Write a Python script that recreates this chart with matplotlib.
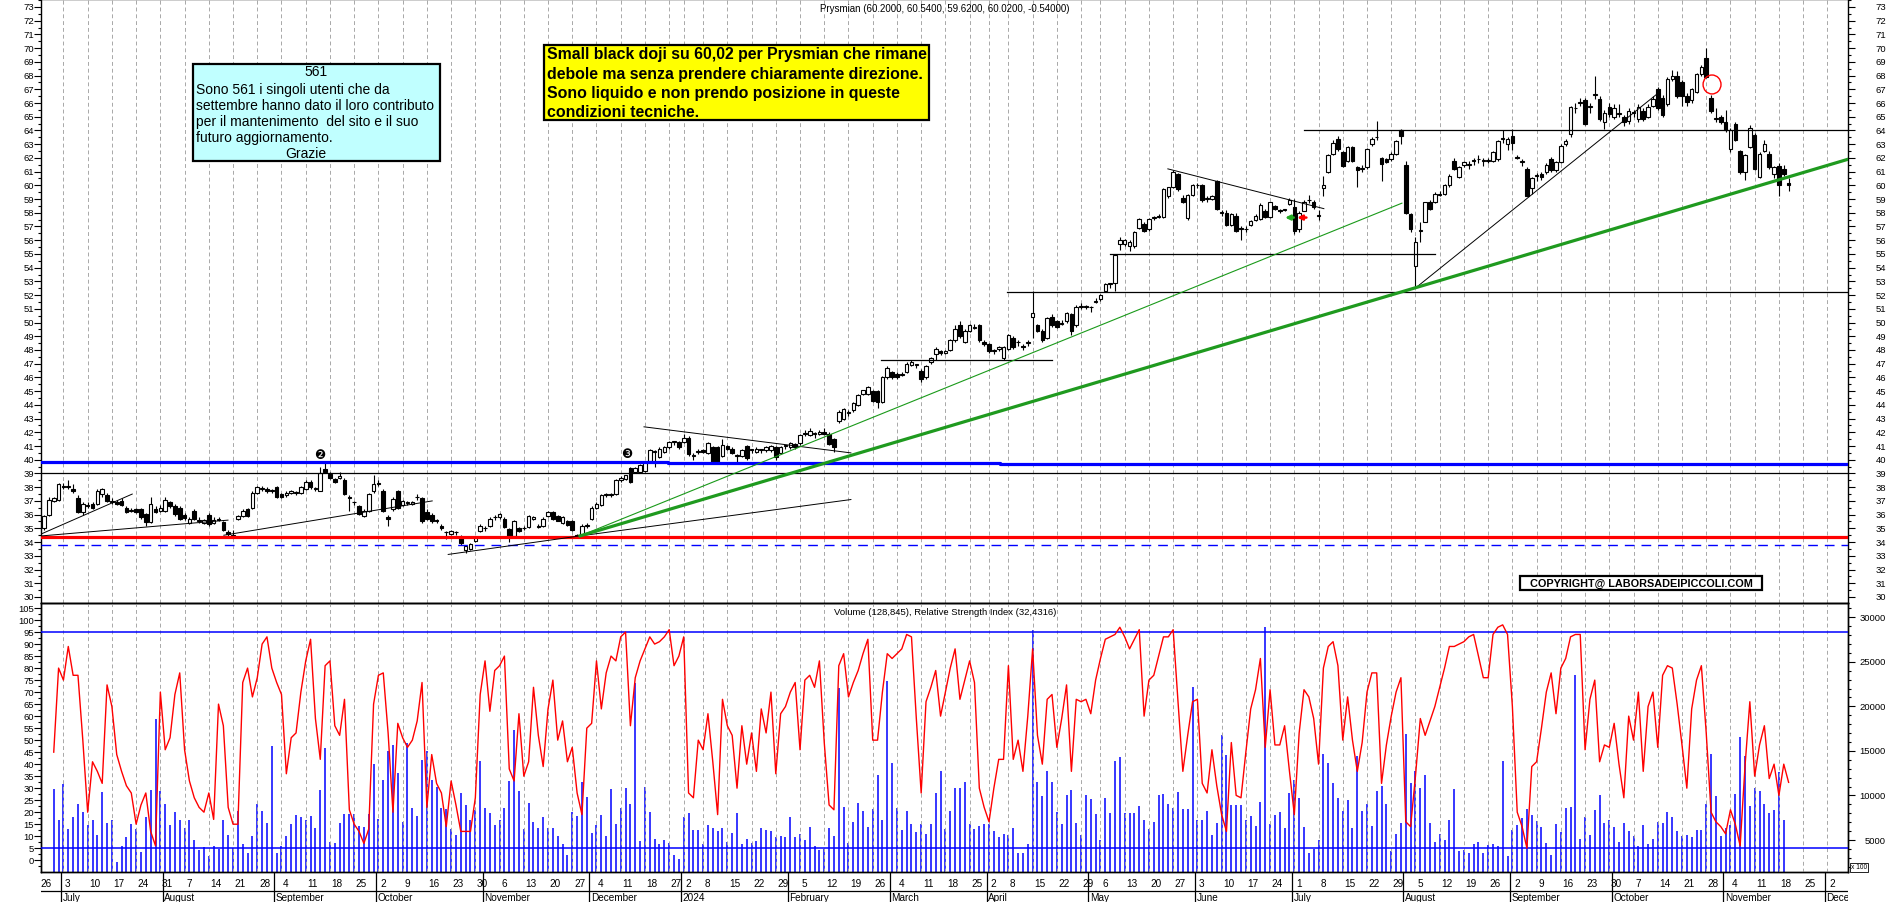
import numpy as np
import pandas as pd
import matplotlib
matplotlib.use("Agg")
from matplotlib import pyplot as plt
from matplotlib import transforms
from matplotlib.patches import Rectangle, Ellipse
from matplotlib.ticker import MultipleLocator

plt.rcParams['font.family'] = ['Liberation Sans', 'DejaVu Sans']

# ---------------- dati ----------------
# candele giornaliere Prysmian (apertura, massimo, minimo, chiusura)
candles_1 = [
    (35.0, 36.0, 34.9, 35.9), (36.0, 37.3, 35.9, 37.1), (37.0, 37.3, 36.9, 37.2), (37.1, 38.3, 37.0, 38.2), (38.1, 38.3, 37.9, 38.0),
    (38.0, 38.5, 37.9, 38.1), (37.9, 38.2, 37.6, 37.7), (37.2, 37.4, 36.1, 36.2), (36.2, 36.9, 36.0, 36.8), (36.7, 36.9, 36.5, 36.65),
    (36.8, 36.9, 36.4, 36.5), (36.8, 37.9, 36.7, 37.75), (37.5, 37.95, 37.3, 37.85), (37.4, 37.6, 36.9, 37.0), (37.0, 37.2, 36.8, 36.95),
    (36.9, 37.1, 36.7, 36.8), (37.0, 37.2, 36.6, 36.7), (36.5, 36.6, 36.1, 36.2), (36.3, 36.5, 36.2, 36.35), (36.4, 36.5, 36.1, 36.2),
    (36.4, 36.5, 35.7, 35.8), (36.05, 36.1, 35.2, 35.45), (35.45, 37.3, 35.4, 36.8), (36.4, 36.6, 36.1, 36.2), (36.3, 36.7, 36.2, 36.5),
    (36.3, 37.3, 36.2, 37.1), (36.9, 37.0, 36.5, 36.65), (36.65, 36.8, 35.9, 36.05), (36.5, 36.6, 35.6, 35.7), (36.0, 36.1, 35.6, 35.75),
    (35.4, 35.8, 35.3, 35.7), (36.3, 36.4, 35.6, 35.7), (35.6, 35.8, 35.4, 35.55), (35.4, 35.7, 35.3, 35.6), (36.0, 36.1, 35.2, 35.3),
    (35.4, 35.8, 35.3, 35.6), (35.6, 35.8, 35.5, 35.7), (35.45, 35.5, 34.8, 34.85), (34.7, 34.9, 34.4, 34.6), (34.5, 34.9, 34.4, 34.45),
    (35.7, 36.0, 35.6, 35.9), (35.9, 36.4, 35.8, 36.3), (36.4, 36.5, 35.8, 35.9), (36.5, 37.7, 36.4, 37.6), (37.6, 38.1, 37.5, 38.0),
    (37.9, 38.1, 37.7, 37.9), (37.9, 38.0, 37.6, 37.7), (37.7, 37.9, 37.6, 37.8), (38.0, 38.1, 37.2, 37.3), (37.5, 37.6, 37.2, 37.3),
    (37.4, 37.7, 37.3, 37.6), (37.6, 37.8, 37.5, 37.7), (37.6, 37.7, 37.4, 37.6), (37.6, 38.1, 37.5, 38.0), (37.9, 38.5, 37.8, 38.4),
    (38.4, 38.5, 37.9, 38.0), (37.9, 38.0, 37.7, 37.9), (37.75, 39.5, 37.7, 39.0), (39.3, 39.8, 39.0, 39.1), (38.95, 39.1, 38.6, 38.7),
    (38.6, 38.7, 38.3, 38.4), (38.7, 39.1, 38.6, 38.8), (38.55, 38.7, 37.4, 37.5), (37.3, 37.4, 36.3, 37.2), (36.9, 37.0, 36.7, 36.9),
    (36.65, 36.7, 36.0, 36.05), (35.9, 36.4, 35.8, 36.3), (36.3, 37.6, 36.2, 37.5), (37.7, 38.9, 37.6, 38.2), (38.3, 38.5, 38.1, 38.2),
    (37.75, 37.9, 36.2, 36.3), (35.8, 36.0, 35.2, 35.7), (36.4, 37.3, 36.3, 37.15), (37.7, 37.8, 36.4, 36.5), (36.7, 37.1, 36.6, 37.0),
    (36.85, 37.0, 36.7, 36.85), (36.8, 37.0, 36.7, 36.95), (37.3, 37.5, 37.1, 37.25), (37.2, 37.3, 35.4, 35.5), (36.2, 36.4, 35.6, 35.7),
    (36.0, 36.1, 35.4, 35.55), (35.6, 35.7, 35.4, 35.55), (35.2, 35.3, 34.9, 35.0), (34.75, 34.8, 34.2, 34.7), (34.6, 34.9, 34.5, 34.8),
    (34.7, 34.8, 34.5, 34.7), (34.35, 34.5, 33.8, 33.9), (33.45, 33.8, 33.2, 33.7), (33.5, 33.9, 33.4, 33.85), (34.1, 34.4, 34.0, 34.35),
    (34.8, 35.3, 34.7, 35.2), (35.0, 35.2, 34.8, 35.0), (35.2, 35.8, 35.1, 35.7), (35.8, 36.0, 35.6, 35.8), (35.8, 36.1, 35.7, 36.05),
    (35.7, 35.8, 35.0, 35.1), (34.95, 35.0, 34.0, 34.4), (34.45, 35.6, 34.4, 35.55), (35.0, 35.1, 34.7, 34.8), (35.0, 35.2, 34.9, 35.0),
    (35.1, 36.0, 35.0, 35.9), (35.7, 35.9, 35.6, 35.8), (35.1, 35.3, 35.0, 35.1), (35.2, 35.8, 35.1, 35.7), (35.9, 36.3, 35.8, 36.2),
    (36.2, 36.3, 35.6, 35.7), (35.9, 36.0, 35.5, 35.55), (35.4, 35.9, 35.3, 35.8), (35.5, 35.6, 35.2, 35.25), (35.5, 35.6, 34.8, 34.9),
    (34.5, 34.6, 34.3, 34.4), (34.4, 35.3, 34.3, 35.2), (35.2, 35.4, 35.0, 35.2), (35.7, 36.6, 35.6, 36.5), (36.5, 36.9, 36.4, 36.8),
    (36.7, 37.5, 36.6, 37.4), (37.4, 37.6, 37.3, 37.5), (37.5, 37.6, 37.3, 37.4), (37.5, 38.6, 37.4, 38.5), (38.5, 38.8, 38.4, 38.7),
]
candles_2 = [
    (38.6, 38.9, 38.5, 38.9), (39.4, 39.5, 38.3, 38.4), (39.1, 39.5, 39.0, 39.4), (39.1, 39.7, 39.0, 39.6), (39.2, 39.9, 39.1, 39.8),
    (39.9, 40.8, 39.8, 40.7), (40.6, 40.7, 39.5, 40.6), (40.2, 40.9, 40.1, 40.8), (40.6, 41.0, 40.5, 40.9), (40.9, 41.4, 40.8, 41.3),
    (41.3, 41.4, 41.1, 41.3), (41.3, 41.4, 40.8, 40.9), (41.3, 41.9, 41.2, 41.6), (41.6, 41.7, 40.3, 40.4), (40.3, 40.5, 40.0, 40.3),
    (40.6, 40.8, 40.4, 40.6), (40.7, 40.8, 40.5, 40.6), (40.5, 41.3, 40.4, 41.2), (40.9, 41.0, 39.7, 39.8), (40.9, 41.0, 39.7, 39.8),
    (40.3, 41.5, 40.2, 41.1), (41.0, 41.1, 40.7, 40.8), (40.8, 40.9, 40.4, 40.5), (40.3, 40.4, 39.8, 40.3), (40.3, 40.8, 40.2, 40.7),
    (41.0, 41.1, 40.0, 40.1), (40.7, 40.8, 40.5, 40.7), (40.6, 40.9, 40.5, 40.8), (40.7, 40.8, 40.5, 40.7), (40.7, 41.0, 40.6, 40.9),
    (40.7, 41.1, 40.6, 41.0), (40.9, 41.0, 40.0, 40.2), (40.5, 41.0, 40.4, 40.9), (41.0, 41.1, 40.8, 41.0), (40.9, 41.3, 40.8, 41.2),
    (41.15, 41.2, 40.8, 40.9), (41.2, 41.9, 41.1, 41.8), (41.9, 42.2, 41.7, 41.9), (41.8, 42.3, 41.7, 42.1), (41.9, 42.0, 41.6, 41.9),
    (41.9, 42.2, 41.8, 42.05), (42.05, 42.3, 41.8, 41.9), (41.9, 42.0, 41.1, 41.15), (41.5, 41.6, 40.6, 40.9), (42.85, 43.6, 42.7, 43.45),
    (42.95, 43.8, 42.9, 43.7), (43.4, 43.6, 43.2, 43.4), (43.6, 44.2, 43.5, 44.1), (44.0, 44.8, 43.9, 44.7), (44.8, 45.1, 44.7, 45.05),
    (44.8, 45.4, 44.7, 45.3), (45.0, 45.1, 44.2, 44.3), (45.0, 45.1, 43.8, 44.2), (44.2, 46.1, 44.1, 46.0), (46.0, 46.8, 45.9, 46.7),
    (46.4, 46.5, 45.9, 46.0), (46.25, 46.4, 45.9, 46.0), (46.2, 46.4, 46.1, 46.25), (46.4, 47.1, 46.3, 47.0), (46.9, 47.3, 46.8, 47.1),
    (46.9, 47.0, 46.7, 46.9), (46.5, 46.6, 45.7, 45.9), (46.0, 46.9, 45.9, 46.85), (47.1, 47.5, 47.0, 47.4), (47.7, 48.2, 47.3, 48.1),
    (47.9, 48.0, 47.6, 47.8), (47.8, 48.0, 47.7, 47.9), (48.0, 48.8, 47.9, 48.75), (48.7, 49.8, 48.6, 49.5), (49.8, 50.1, 48.9, 49.0),
    (48.6, 49.5, 48.5, 49.4), (49.4, 49.9, 49.3, 49.8), (49.6, 49.9, 49.5, 49.65), (49.8, 49.9, 48.6, 48.7), (48.6, 48.7, 48.3, 48.4),
    (48.4, 48.5, 47.8, 47.95), (47.9, 48.1, 47.7, 48.0), (48.1, 48.3, 47.9, 48.25), (47.4, 48.3, 47.3, 48.2), (48.1, 49.2, 48.0, 49.1),
    (48.9, 49.0, 48.1, 48.2), (48.55, 48.7, 48.3, 48.55), (48.3, 48.4, 48.0, 48.2), (48.5, 48.7, 48.3, 48.55), (50.4, 52.3, 48.9, 50.7),
    (49.8, 49.9, 49.3, 49.4), (49.4, 49.5, 48.6, 48.7), (48.9, 50.4, 48.8, 50.3), (50.4, 50.6, 49.7, 49.8), (50.1, 50.2, 49.6, 49.7),
    (49.9, 50.2, 49.8, 50.0), (50.1, 50.8, 50.0, 50.7), (50.6, 50.7, 49.1, 49.4), (49.8, 51.3, 49.7, 51.1), (51.1, 51.4, 51.0, 51.2),
    (51.2, 51.3, 51.0, 51.1), (51.1, 51.2, 50.8, 51.1), (51.5, 51.8, 51.4, 51.6), (51.7, 52.1, 51.6, 52.0), (52.3, 52.9, 52.2, 52.8),
    (52.8, 52.9, 52.5, 52.8), (52.9, 55.0, 52.3, 54.9), (55.7, 56.2, 55.3, 56.0), (55.7, 56.1, 55.6, 56.0), (55.6, 56.0, 55.2, 55.85),
    (55.6, 56.7, 55.4, 56.6), (56.9, 57.6, 56.8, 57.55), (57.2, 57.3, 56.6, 56.7), (56.8, 57.6, 56.7, 57.55), (57.6, 57.8, 57.5, 57.7),
    (57.8, 57.9, 57.6, 57.7), (57.7, 59.8, 57.6, 59.7), (59.25, 59.9, 59.1, 59.85), (59.85, 61.1, 59.8, 60.95), (60.8, 60.9, 59.6, 59.7),
    (59.1, 59.3, 58.7, 58.8), (57.6, 59.4, 57.5, 59.3), (59.3, 60.1, 59.2, 60.0), (60.0, 60.2, 59.8, 60.0), (60.0, 60.1, 58.8, 58.9),
    (59.0, 59.2, 58.8, 59.0), (59.0, 59.3, 58.9, 59.2), (60.3, 60.4, 58.2, 58.3), (58.0, 58.2, 57.8, 58.0), (58.0, 58.2, 57.0, 57.1),
    (57.1, 58.0, 57.0, 57.9), (57.8, 58.0, 56.6, 56.7),
]
candles_3 = [
    (56.9, 57.0, 56.0, 56.8), (56.8, 57.0, 56.6, 56.8), (57.1, 57.5, 57.0, 57.4), (57.5, 57.9, 57.4, 57.8), (57.55, 58.7, 57.5, 58.6),
    (58.15, 58.3, 57.6, 57.7), (57.7, 58.8, 57.6, 58.75), (58.5, 58.6, 58.2, 58.3), (58.2, 58.3, 58.0, 58.15), (58.2, 58.3, 58.1, 58.2),
    (58.65, 59.1, 58.6, 58.9), (58.4, 59.0, 56.45, 56.7), (56.8, 58.1, 56.6, 58.0), (58.15, 58.9, 58.1, 58.75), (58.9, 59.3, 58.7, 58.9),
    (58.75, 58.9, 58.3, 58.4), (57.8, 58.2, 57.5, 57.8), (59.8, 60.7, 59.2, 60.0), (61.0, 62.3, 60.9, 62.2), (62.3, 63.3, 62.2, 63.1),
    (63.4, 63.6, 62.5, 62.65), (62.4, 62.5, 61.3, 61.4), (61.8, 62.9, 61.7, 62.8), (62.8, 62.9, 61.7, 61.8), (61.3, 61.4, 59.9, 61.1),
    (61.2, 61.5, 61.0, 61.2), (61.3, 62.7, 61.2, 62.65), (63.0, 63.5, 62.9, 63.4), (63.5, 64.7, 63.3, 63.55), (62.0, 62.1, 60.3, 61.55),
    (61.9, 62.0, 61.6, 61.7), (61.9, 62.4, 61.8, 62.3), (62.3, 63.3, 62.2, 63.2), (64.0, 64.1, 63.0, 63.6), (61.5, 61.8, 57.9, 58.0),
    (57.9, 58.0, 56.6, 56.8), (54.1, 56.2, 52.6, 55.9), (56.7, 57.3, 55.9, 56.7), (57.35, 58.8, 57.3, 58.75), (58.75, 58.9, 58.2, 58.3),
    (58.75, 59.5, 58.7, 59.4), (59.3, 59.6, 59.2, 59.35), (59.4, 60.1, 59.3, 60.0), (60.0, 60.8, 59.9, 60.7), (61.8, 62.0, 61.1, 61.2),
    (60.6, 61.4, 60.5, 61.3), (61.45, 61.8, 61.3, 61.7), (61.5, 61.8, 61.2, 61.5), (61.8, 62.0, 61.5, 61.8), (61.9, 62.2, 61.6, 61.9),
    (61.8, 62.0, 61.4, 61.8), (61.8, 62.0, 61.6, 61.8), (61.8, 62.5, 61.7, 62.45), (61.9, 63.3, 61.8, 63.2), (63.4, 64.0, 63.1, 63.4),
    (63.0, 63.5, 62.6, 63.4), (63.6, 64.1, 62.6, 63.1), (62.1, 62.2, 61.9, 62.0), (61.7, 61.9, 61.4, 61.7), (61.2, 61.3, 59.2, 59.25),
    (59.8, 60.6, 59.4, 60.5), (60.7, 60.9, 60.3, 60.7), (60.8, 61.0, 60.4, 60.6), (61.0, 61.6, 60.8, 61.5), (61.9, 62.1, 61.0, 61.1),
    (61.1, 61.8, 61.0, 61.7), (61.7, 63.0, 61.6, 62.9), (63.0, 63.4, 62.9, 63.2), (63.75, 65.8, 63.5, 65.7), (65.6, 66.0, 65.3, 65.6),
    (66.0, 66.4, 65.8, 66.05), (66.2, 66.4, 64.4, 64.5), (65.7, 66.0, 65.3, 65.7), (66.6, 68.0, 66.3, 66.65), (66.3, 66.5, 64.7, 64.8),
    (64.6, 65.5, 64.1, 65.3), (65.7, 66.0, 65.0, 65.2), (65.0, 65.9, 64.8, 65.6), (65.2, 65.9, 65.0, 65.2), (64.95, 65.1, 64.3, 64.6),
    (64.7, 65.6, 64.5, 65.4), (65.3, 65.5, 65.0, 65.3), (64.8, 65.9, 64.6, 65.7), (65.4, 65.6, 64.7, 64.8), (65.0, 65.9, 64.9, 65.7),
    (65.8, 66.5, 65.7, 66.3), (67.0, 67.2, 65.5, 65.6), (66.4, 66.6, 65.0, 65.1), (65.9, 67.9, 65.8, 67.75), (67.75, 68.4, 67.6, 68.0),
    (68.0, 68.3, 66.4, 66.5), (67.5, 67.7, 65.8, 66.5), (66.5, 66.7, 65.8, 66.05), (66.2, 67.1, 66.0, 67.0), (66.8, 68.2, 66.7, 68.1),
    (68.1, 68.8, 68.0, 68.6), (69.3, 70.0, 67.8, 67.9), (66.35, 66.6, 65.3, 65.45), (64.8, 65.6, 64.6, 64.9), (64.95, 65.1, 64.5, 64.6),
    (64.6, 65.5, 63.9, 64.0), (62.65, 64.2, 62.4, 64.0), (64.5, 64.6, 63.2, 63.3), (62.5, 62.6, 60.8, 60.95), (60.95, 62.3, 60.4, 62.2),
    (62.8, 64.4, 62.7, 64.2), (63.7, 63.8, 61.1, 61.2), (60.6, 62.4, 60.5, 62.3), (62.5, 63.3, 62.4, 63.0), (62.3, 62.5, 61.2, 61.3),
    (60.8, 61.4, 60.5, 61.3), (61.4, 61.6, 59.25, 60.0), (61.2, 61.5, 60.7, 60.8), (60.2, 60.54, 59.62, 60.02),
]

# RSI (scala sinistra del pannello inferiore)
rsi_1 = [45, 80, 75, 89, 77, 77, 50, 20, 41, 37, 32, 73, 64, 44, 37, 31, 28, 15, 23, 28,
         12, 6, 70, 46, 51, 69, 78, 46, 33, 26, 22, 20, 28, 17, 65, 56, 22, 15, 15, 74,
         80, 68, 76, 90, 93, 80, 74, 69, 36, 51, 53, 70, 83, 92, 59, 42, 81, 83, 56, 52,
         67, 21, 15, 12, 7, 13, 65, 77, 78, 53, 20, 57, 51, 47, 50, 58, 74, 22, 44, 32,
         28, 14, 33, 23, 12, 12, 12, 26, 69, 83, 62, 79, 81, 85, 38, 33, 61, 35, 41, 72,
         52, 39, 63, 75, 50, 58, 41, 47, 28, 19, 55, 57, 83, 63, 78, 85, 83, 93, 95, 56,
         76, 83, 88, 93, 90, 91, 93, 96, 81, 85, 93, 28, 26, 50]
rsi_2 = [46, 61, 41, 19, 67, 56, 52, 30, 56, 40, 53, 37, 63, 53, 70, 36, 61, 64, 70, 74,
         46, 75, 77, 72, 83, 49, 23, 21, 81, 86, 68, 74, 79, 86, 92, 50, 50, 70, 86, 84,
         86, 88, 94, 93, 59, 28, 66, 72, 79, 60, 70, 80, 88, 67, 75, 83, 74, 30, 22, 16,
         30, 42, 42, 81, 42, 50, 37, 60, 88, 52, 40, 67, 69, 47, 59, 73, 37, 67, 66, 67,
         61, 75, 84, 92, 93, 94, 97, 93, 88, 92, 96, 60, 75, 77, 85, 93, 93, 96, 66, 37,
         52, 66, 67, 32, 28, 46, 31, 19, 12, 49, 27, 26, 45, 63, 71, 84, 47, 71, 48, 48,
         56, 37, 19]
rsi_3 = [53, 71, 68, 59, 40, 80, 89, 91, 81, 50, 68, 50, 37, 49, 70, 78, 78, 32, 48, 60,
         70, 76, 16, 14, 35, 59, 52, 58, 64, 72, 80, 89, 89, 90, 91, 93, 94, 85, 76, 76,
         94, 97, 98, 94, 64, 20, 14, 5, 39, 41, 55, 70, 78, 61, 80, 84, 93, 94, 94, 46,
         67, 75, 41, 48, 47, 57, 40, 26, 60, 50, 70, 37, 64, 70, 47, 77, 81, 80, 65, 48,
         30, 63, 75, 81, 53, 20, 16, 14, 11, 21, 15, 6, 39, 66, 35, 48, 56, 34, 40, 27,
         40, 32.43]

# volumi (x 100, scala destra del pannello inferiore)
vol_1 = [10700, 7200, 11300, 6200, 7600, 9000, 8100, 6700, 7300, 5600,
         10400, 6900, 7300, 2500, 4300, 5300, 6800, 6200, 3700, 7600,
         10600, 18600, 10500, 9000, 6700, 8200, 7300, 6400, 7300, 5000,
         3900, 4200, 3200, 4300, 4000, 7200, 5600, 4100, 8300, 4500,
         3600, 5400, 9000, 8300, 6900, 15600, 3600, 4300, 5400, 6800,
         7800, 7600, 7200, 7700, 6300, 10600, 15300, 4800, 4700, 6900,
         7900, 7900, 7900, 6600, 6500, 7900, 13500, 7400, 11700, 15000,
         15700, 12500, 7000, 15900, 8600, 7700, 14000, 15000, 11700, 10900,
         8600, 8500, 6200, 5600, 10300, 8900, 7300, 8400, 13900, 8600,
         8000, 6700, 7300, 8600, 11600, 17300, 10500, 6200, 9200, 7000,
         6300, 7600, 6300, 6300, 5400, 4600, 3300, 8200, 7700, 11500,
         9800, 5800, 6700, 7800, 5400, 10700, 6800, 8600, 10800, 9000,
         22600, 4900, 11000, 8200, 5100, 4500, 5000, 4700, 3300, 2900,
         7600, 8000, 6100, 6100]
vol_2 = [4500, 6700, 6300, 6000, 6300, 4800, 5800, 8000, 4500, 5100,
         4700, 4900, 6300, 6100, 6000, 5300, 5400, 5300, 7600, 5300,
         5700, 5000, 6500, 4300, 3900, 4000, 6300, 5400, 22100, 8700,
         4700, 7000, 9200, 8300, 6500, 8500, 12300, 7300, 22900, 13700,
         8600, 6100, 8300, 6800, 5900, 6800, 5700, 6800, 10300, 12800,
         6200, 8300, 10800, 10800, 11500, 6800, 6200, 6600, 6800, 6800,
         6000, 5300, 5700, 5600, 6300, 3600, 3500, 4500, 28600, 11500,
         9900, 12800, 11500, 8200, 6800, 10100, 10600, 6900, 5600, 10100,
         9600, 7900, 5000, 9700, 8000, 13900, 14300, 8000, 8000, 8000,
         8800, 7300, 6200, 7000, 10000, 10200, 9000, 8600, 10400, 8500,
         8500, 22200, 7200, 7200, 8300, 5600, 6900, 16800, 14500, 8900,
         8900, 8900, 7200, 7700, 6600, 9300, 28900, 6800, 7800, 8200,
         6300, 10300, 11700]
vol_3 = [9700, 6500, 3600, 4000, 5000, 14700, 13600, 11400, 9700, 8300,
         9500, 6300, 14400, 8300, 9100, 6600, 10500, 11100, 9100, 3800,
         5700, 6900, 16900, 11400, 12800, 10800, 12300, 6900, 4800, 5700,
         5000, 7200, 10700, 3800, 3900, 3600, 4500, 4800, 3600, 4400,
         4600, 4300, 13900, 3200, 6100, 6700, 7500, 8500, 7800, 7100,
         6500, 4700, 3300, 6800, 5900, 8600, 8700, 23500, 5100, 7600,
         5600, 8400, 10100, 6900, 7200, 6500, 4800, 6900, 6000, 5500,
         4300, 6700, 4500, 5100, 7000, 6900, 8200, 7600, 6000, 5500,
         5600, 5300, 6100, 6100, 9000, 14600, 9900, 5500, 6300, 6700,
         10200, 16600, 14400, 8800, 10800, 10500, 9100, 8000, 8400, 12600,
         7300, 1288.45]

holidays = ['2023-12-25', '2023-12-26', '2024-01-01', '2024-03-29', '2024-04-01', '2024-05-01']
first_day, last_day, axis_end = '2023-06-26', '2024-11-20', '2024-12-06'
month_names = ['', '', 'February', 'March', 'April', 'May', 'June', 'July',
               'August', 'September', 'October', 'November', 'December']

title_text = "Prysmian (60.2000, 60.5400, 59.6200, 60.0200, -0.54000)"
lower_title = "Volume (128,845), Relative Strength Index (32,4316)"
note_lines = ["Small black doji su 60,02 per Prysmian che rimane",
              "debole ma senza prendere chiaramente direzione.",
              "Sono liquido e non prendo posizione in queste",
              "condizioni tecniche."]
info_lines = ["Sono 561 i singoli utenti che da",
              "settembre hanno dato il loro contributo",
              "per il mantenimento  del sito e il suo",
              "futuro aggiornamento."]

# ---------------- calendario di borsa ----------------
days = pd.bdate_range(first_day, axis_end)
days = days[~days.isin(pd.to_datetime(holidays))]
last = int(np.where(days == pd.Timestamp(last_day))[0][0])

ohlc = np.array(candles_1 + candles_2 + candles_3)
xc = np.arange(last - len(ohlc) + 1, last + 1)
rsi = np.array(rsi_1 + rsi_2 + rsi_3, dtype=float)
xr = np.arange(last - len(rsi) + 1, last + 1)
vol = np.array(vol_1 + vol_2 + vol_3, dtype=float)
xv = np.arange(last - len(vol) + 1, last + 1)

week_starts = [k for k in range(len(days))
               if k == 0 or days[k].weekday() < days[k - 1].weekday() or (days[k] - days[k - 1]).days >= 7]
month_starts = [k for k in range(1, len(days)) if days[k].month != days[k - 1].month]

# ---------------- figura ----------------
W, H = 1890, 903
fig = plt.figure(figsize=(W / 100, H / 100), dpi=100)
fig.patch.set_facecolor('white')
X0, X1 = 41.5, 1848
ax = fig.add_axes([X0 / W, 1 - 604 / H, (X1 - X0) / W, 604 / H])
ax2 = fig.add_axes([X0 / W, 1 - 873 / H, (X1 - X0) / W, 269 / H])
axv = ax2.twinx()
axd = fig.add_axes([X0 / W, 0, (X1 - X0) / W, 30 / H])
xlim = ((X0 - 39.2) / 4.846, (X1 - 39.2) / 4.846)
for a in (ax, ax2, axv, axd):
    a.set_xlim(*xlim)
ax.set_ylim(29.56, 73.58)
ax2.set_ylim(-4.9, 107.1)
axv.set_ylim(1413, 31600)
axd.set_ylim(0, 1)
axd.axis('off')

ax2.set_zorder(axv.get_zorder() + 1)
ax2.patch.set_visible(False)

grid_kw = dict(color='#a8a8a8', lw=0.7, ls=(0, (4, 3)), zorder=0)
for k in week_starts:
    ax.axvline(k, **grid_kw)
    ax2.axvline(k, **grid_kw)

# candele
o, h, l, c = ohlc.T
up = c >= o
ax.vlines(xc, l, h, color='black', lw=0.8, zorder=3)
ax.bar(xc, np.maximum(np.abs(c - o), 0.05), bottom=np.minimum(o, c), width=0.74,
       color=np.where(up, 'white', 'black'), edgecolor='black', linewidth=0.8, zorder=4)

# livelli orizzontali
ax.axhline(39.0, color='black', lw=0.9, zorder=5)
ax.axhline(34.4, color='#ff0000', lw=2.3, zorder=5)
ax.axhline(33.8, color='#0000ff', lw=1.0, ls=(0, (7, 5)), zorder=5)
ax.plot([xlim[0], 61.6, 129.8, 198.3, xlim[1]], [39.87, 39.82, 39.76, 39.68, 39.68],
        drawstyle='steps-post', color='#0000ff', lw=2.3, zorder=5)
for y, xa, xb in [(64.0, 261.0, xlim[1]), (52.2, 199.7, xlim[1]), (55.0, 221.0, 288.0), (47.3, 173.7, 209.0)]:
    ax.plot([xa, xb], [y, y], color='black', lw=0.9, zorder=5)

# trendline
for (xa, ya), (xb, yb) in [((xlim[0], 34.6), (19.2, 37.5)), ((xlim[0], 34.45), (38.96, 35.6)),
                           ((38.1, 34.5), (81.1, 37.0)), ((84.4, 33.1), (111.6, 34.45)),
                           ((111.6, 34.45), (167.5, 37.1)), ((124.8, 42.4), (167.5, 40.5)),
                           ((232.9, 61.2), (265.1, 58.3)), ((284.3, 52.6), (334.0, 66.7))]:
    ax.plot([xa, xb], [ya, yb], color='black', lw=0.7, zorder=5)
ax.plot([111.6, 281.2], [34.45, 58.7], color='#1a9a1a', lw=0.8, zorder=5)
ax.plot([111.6, xlim[1]], [34.45, 61.9], color='#1f9a1f', lw=2.3, zorder=5)

# segni grafici
ax.add_patch(Ellipse((345.2, 67.35), 3.7, 1.38, fill=False, ec='#ff0000', lw=1.0, zorder=6))
ax.annotate('', xy=(257.1, 57.65), xytext=(258.9, 57.65),
            arrowprops=dict(arrowstyle='-|>', color='#22aa22', lw=1.8, mutation_scale=7, shrinkA=0, shrinkB=0), zorder=6)
ax.annotate('', xy=(259.6, 57.65), xytext=(261.5, 57.65),
            arrowprops=dict(arrowstyle='-|>', color='#ff0000', lw=1.8, mutation_scale=7, shrinkA=0, shrinkB=0), zorder=6)
ax.text(57.9, 40.38, '\u2777', fontsize=9, ha='center', va='center', family='DejaVu Sans', zorder=6)
ax.text(121.3, 40.42, '\u2778', fontsize=9, ha='center', va='center', family='DejaVu Sans', zorder=6)

# pannello inferiore
axv.vlines(xv, 0, vol, color='#0000ff', lw=1.1)
ax2.plot(xr, rsi, color='#ff0000', lw=1.0, zorder=4)
ax2.axhline(95, color='#0000ff', lw=1.1, zorder=3)
ax2.axhline(5, color='#0000ff', lw=1.1, zorder=3)

# assi e tacche
for a in (ax, ax2, axv):
    a.tick_params(axis='x', bottom=False, top=False, labelbottom=False)
    for s in a.spines.values():
        s.set_linewidth(1.0)
ax.yaxis.set_major_locator(MultipleLocator(1))
ax.yaxis.set_minor_locator(MultipleLocator(0.5))
ax.tick_params(axis='y', which='both', direction='out', left=True, right=True,
               labelleft=False, labelright=False, width=0.8)
ax.tick_params(axis='y', which='major', length=5)
ax.tick_params(axis='y', which='minor', length=2.5)
ax2.yaxis.set_major_locator(MultipleLocator(5))
ax2.yaxis.set_minor_locator(MultipleLocator(2.5))
ax2.tick_params(axis='y', which='both', direction='out', left=True, right=False, labelleft=False, width=0.8)
ax2.tick_params(axis='y', which='major', length=5)
ax2.tick_params(axis='y', which='minor', length=2.5)
axv.yaxis.set_major_locator(MultipleLocator(5000))
axv.yaxis.set_minor_locator(MultipleLocator(1000))
axv.tick_params(axis='y', which='both', direction='out', right=True, labelright=False, width=0.8)
axv.tick_params(axis='y', which='major', length=5)
axv.tick_params(axis='y', which='minor', length=2.5)

lab = dict(fontsize=6.8, va='center', ha='right')
tl = transforms.blended_transform_factory(fig.transFigure, ax.transData)
for v in range(30, 74):
    fig.text(34 / W, v, str(v), transform=tl, **lab)
    fig.text(1886 / W, v, str(v), transform=tl, **lab)
t2 = transforms.blended_transform_factory(fig.transFigure, ax2.transData)
for v in range(0, 106, 5):
    fig.text(34 / W, v, str(v), transform=t2, **lab)
tv = transforms.blended_transform_factory(fig.transFigure, axv.transData)
for v in range(5000, 30001, 5000):
    fig.text(1886 / W, v, str(v), transform=tv, **lab)
fig.text(1859 / W, 1 - 868 / H, 'x 100', fontsize=4.8, ha='center', va='center',
         bbox=dict(boxstyle='square,pad=0.15', fc='white', ec='black', lw=0.6))

# righe delle date
axd.plot(xlim, [0.367, 0.367], color='black', lw=0.9, clip_on=True)
for k in month_starts:
    axd.plot([k - 0.5, k - 0.5], [0, 1], color='black', lw=0.9)
    name = str(days[k].year) if days[k].month == 1 else month_names[days[k].month]
    axd.text(k - 0.2, 0.16, name, fontsize=7.2, ha='left', va='center', clip_on=True)
for k in week_starts:
    axd.text(k + 0.35, 0.63, str(days[k].day), fontsize=7.2, ha='left', va='center', clip_on=True)

# titoli
fig.text(945 / W, 1 - 8.5 / H, title_text, fontsize=7.0, ha='center', va='center')
fig.text(945 / W, 1 - 613 / H, lower_title, fontsize=6.8, ha='center', va='center')


def box(px0, py0, px1, py1, face):
    fig.add_artist(Rectangle((px0 / W, 1 - py1 / H), (px1 - px0) / W, (py1 - py0) / H,
                             transform=fig.transFigure, facecolor=face, edgecolor='black',
                             lw=1.6, zorder=10))


# riquadro azzurro
box(193, 65, 440, 162, '#c0ffff')
fig.text(316 / W, 1 - 72 / H, '561', fontsize=10, ha='center', va='center', zorder=11)
for n, s in enumerate(info_lines):
    fig.text(196 / W, 1 - (90 + 16 * n) / H, s, fontsize=10, ha='left', va='center', zorder=11)
fig.text(306 / W, 1 - 154 / H, 'Grazie', fontsize=10, ha='center', va='center', zorder=11)

# riquadro giallo
box(544, 46, 929, 121, '#ffff00')
for n, s in enumerate(note_lines):
    fig.text(547 / W, 1 - (55 + 19.1 * n) / H, s, fontsize=11.4, fontweight='bold', ha='left',
             va='center', zorder=11)

# copyright
box(1520, 577, 1762, 591, 'white')
fig.text(1641 / W, 1 - 584 / H, 'COPYRIGHT@ LABORSADEIPICCOLI.COM', fontsize=7.8, fontweight='bold',
         ha='center', va='center', zorder=11)

fig.savefig('out.png', dpi=100, facecolor='white')
